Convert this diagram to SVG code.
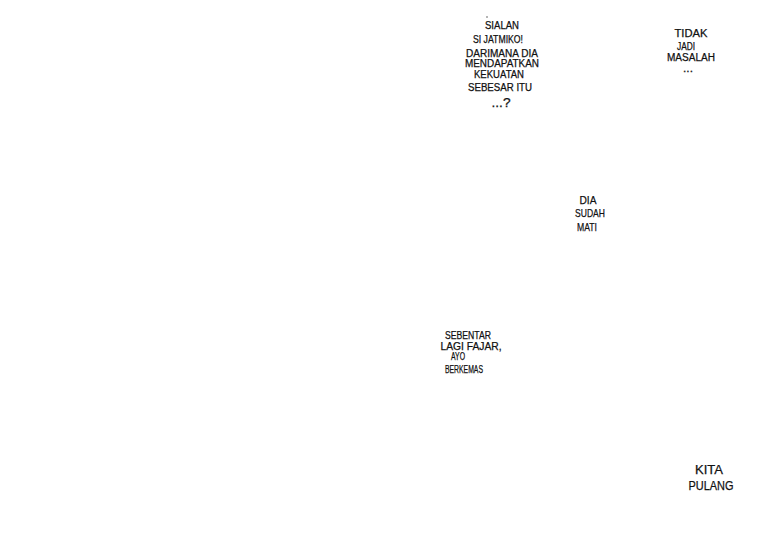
<svg xmlns="http://www.w3.org/2000/svg" width="783" height="550" viewBox="0 0 783 550">
<style>
.t{font-family:"Liberation Sans","DejaVu Sans",sans-serif;fill:#111;stroke:#111;stroke-width:0.25;text-anchor:middle}
.s{font-size:10px}
.m{font-size:11.5px}
.l{font-size:12.5px}
</style>
<rect width="783" height="550" fill="#fff"/>
<g id="bubble-sialan">
<circle cx="487" cy="17" r="0.7" fill="#333"/>
<text class="t s" x="502" y="28.5" textLength="34" lengthAdjust="spacingAndGlyphs">SIALAN</text>
<text class="t s" x="498" y="43" textLength="50" lengthAdjust="spacingAndGlyphs">SI JATMIKO!</text>
<text class="t s" x="502" y="56.5" textLength="72" lengthAdjust="spacingAndGlyphs">DARIMANA DIA</text>
<text class="t s" x="502" y="67" textLength="74" lengthAdjust="spacingAndGlyphs">MENDAPATKAN</text>
<text class="t s" x="499" y="77.5" textLength="50" lengthAdjust="spacingAndGlyphs">KEKUATAN</text>
<text class="t s" x="500" y="90.5" textLength="64" lengthAdjust="spacingAndGlyphs">SEBESAR ITU</text>
<text class="t l" x="501" y="107" textLength="19" lengthAdjust="spacingAndGlyphs">...?</text>
</g>
<g id="bubble-tidak">
<text class="t s" x="691" y="37" textLength="33" lengthAdjust="spacingAndGlyphs">TIDAK</text>
<text class="t s" x="686" y="49.5" textLength="18" lengthAdjust="spacingAndGlyphs">JADI</text>
<text class="t s" x="691" y="60.5" textLength="48" lengthAdjust="spacingAndGlyphs">MASALAH</text>
<text class="t s" x="688" y="72" textLength="10" lengthAdjust="spacingAndGlyphs">...</text>
</g>
<g id="bubble-mati">
<text class="t m" x="588" y="203.5" textLength="17" lengthAdjust="spacingAndGlyphs">DIA</text>
<text class="t m" x="590" y="217" textLength="30" lengthAdjust="spacingAndGlyphs">SUDAH</text>
<text class="t m" x="587" y="230.5" textLength="20" lengthAdjust="spacingAndGlyphs">MATI</text>
</g>
<g id="bubble-fajar">
<text class="t s" x="468" y="338.5" textLength="46" lengthAdjust="spacingAndGlyphs">SEBENTAR</text>
<text class="t s" x="471" y="349.5" textLength="61" lengthAdjust="spacingAndGlyphs">LAGI FAJAR,</text>
<text class="t s" x="458" y="360" textLength="14" lengthAdjust="spacingAndGlyphs">AYO</text>
<text class="t s" x="464" y="372.5" textLength="38" lengthAdjust="spacingAndGlyphs">BERKEMAS</text>
</g>
<g id="bubble-pulang">
<text class="t l" x="709" y="474" textLength="28" lengthAdjust="spacingAndGlyphs">KITA</text>
<text class="t l" x="711" y="490" textLength="45" lengthAdjust="spacingAndGlyphs">PULANG</text>
</g>
<g id="connectors"/>
</svg>
